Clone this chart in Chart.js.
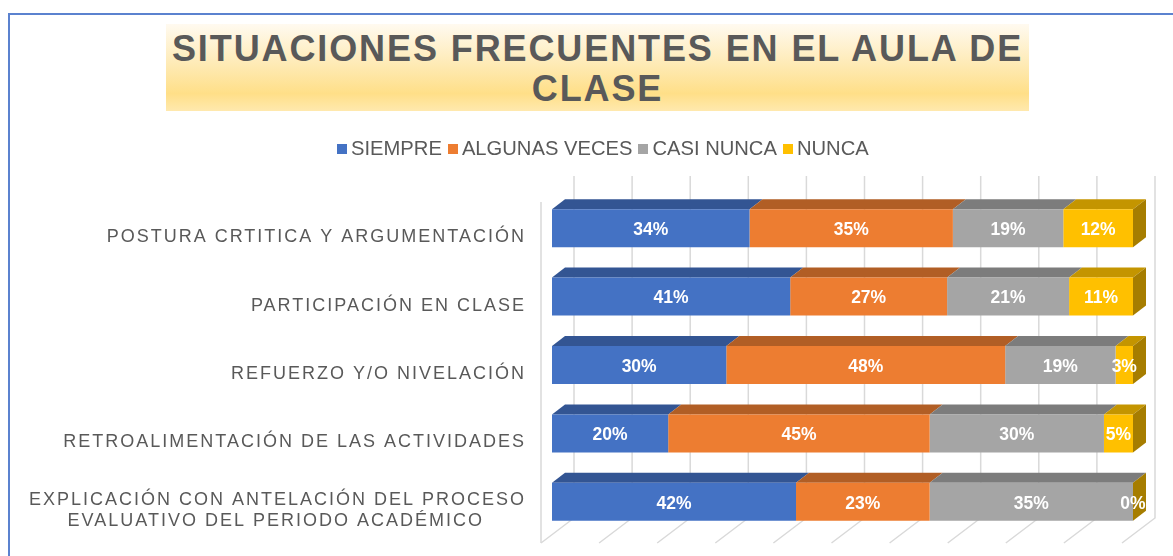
<!DOCTYPE html>
<html lang="es">
<head>
<meta charset="utf-8">
<title>Situaciones frecuentes en el aula de clase</title>
<script src="https://cdn.jsdelivr.net/npm/chart.js@4"></script>
<style>
  html, body { margin: 0; background: #fff; }
  #page { position: relative; width: 1173px; height: 556px; overflow: hidden; font-family: "Liberation Sans", Arial, sans-serif; }
  #frame { position: absolute; left: 8px; top: 13px; right: -4px; bottom: -4px; border: 2px solid #5b82cf; }
  #chartTitle {
    position: absolute; left: 166px; top: 24px; width: 863px; height: 87px; text-align: center;
    font-weight: bold; font-size: 36px; line-height: 40px; letter-spacing: 1.9px; color: #595959;
    padding-top: 5px; box-sizing: border-box;
    background: linear-gradient(#fffaf0 0%, #fee9b0 50%, #ffdf88 80%, #ffe9ae 100%);
  }
  #legend { position: absolute; left: 337px; top: 136px; display: flex; font-size: 20.2px; line-height: 24px; color: #595959; white-space: nowrap; }
  #legend span { display: flex; align-items: center; margin-right: 6px; }
  #legend i { width: 10px; height: 10px; margin-right: 4px; position: relative; top: 1px; }
  canvas { position: absolute; left: 0; top: 0; }
</style>
</head>
<body>
<div id="page">
  <div id="frame"></div>
  <canvas id="chart" width="1173" height="556"></canvas>
  <div id="chartTitle">SITUACIONES FRECUENTES EN EL AULA DE<br>CLASE</div>
  <div id="legend"></div>
</div>
<script>
// trailing spaces keep the second line centred under the first one
const categories = [
  "POSTURA CRTITICA Y ARGUMENTACIÓN",
  "PARTICIPACIÓN EN CLASE",
  "REFUERZO Y/O NIVELACIÓN",
  "RETROALIMENTACIÓN DE LAS ACTIVIDADES",
  ["EXPLICACIÓN CON ANTELACIÓN DEL PROCESO", "EVALUATIVO DEL PERIODO ACADÉMICO      "]
];
const seriesNames = ["SIEMPRE", "ALGUNAS VECES", "CASI NUNCA", "NUNCA"];
const siempre = [34, 41, 30, 20, 42];
const algunasVeces = [35, 27, 48, 45, 23];
const casiNunca = [19, 21, 19, 30, 35];
const nunca = [12, 11, 3, 5, 0];
const gridValues = [0, 10, 20, 30, 40, 50, 60, 70, 80, 90, 100];

const frontColors = ["#4472c4", "#ed7d31", "#a5a5a5", "#ffc000"];
const topColors = ["#335593", "#b15e25", "#7c7c7c", "#c49500"];
const sideColor = "#a67d00";

// html legend, the box/text gaps of the original don't fit the built in one
seriesNames.forEach((name, i) => {
  const item = document.createElement("span");
  item.innerHTML = '<i style="background:' + frontColors[i] + '"></i>' + name;
  document.getElementById("legend").appendChild(item);
});

function poly(ctx, pts, color) {
  ctx.fillStyle = color;
  ctx.beginPath();
  pts.forEach((p, i) => i ? ctx.lineTo(p[0], p[1]) : ctx.moveTo(p[0], p[1]));
  ctx.closePath();
  ctx.fill();
}

/* ========= 3D WALLS AND BAR FACES ========= */
const depth3d = {
  id: "depth3d",
  beforeDraw(chart) {
    // only the category labels are native canvas text with spacing
    chart.ctx.letterSpacing = "2px";
  },
  beforeDatasetsDraw(chart) {
    const ctx = chart.ctx;
    const area = chart.chartArea;
    const x = chart.scales.x;

    ctx.save();
    ctx.strokeStyle = "#d9d9d9";
    ctx.lineWidth = 1.5;
    gridValues.forEach(v => {
      const px = x.getPixelForValue(v);
      ctx.beginPath();
      ctx.moveTo(px + 22, area.top - 18);
      ctx.lineTo(px + 22, area.bottom - 18);
      ctx.lineTo(px - 11, area.bottom + 7);
      ctx.stroke();
    });
    // left wall edge
    ctx.beginPath();
    ctx.moveTo(x.getPixelForValue(0) - 11, area.top + 8);
    ctx.lineTo(x.getPixelForValue(0) - 11, area.bottom + 7);
    ctx.stroke();

    const dx = 13, dy = -10;
    chart.data.datasets.forEach((ds, d) => {
      chart.getDatasetMeta(d).data.forEach(bar => {
        const top = bar.y - bar.height / 2;
        const bottom = bar.y + bar.height / 2;
        poly(ctx, [[bar.base, top], [bar.x, top], [bar.x + dx, top + dy], [bar.base + dx, top + dy]], topColors[d]);
        if (d === chart.data.datasets.length - 1) {
          poly(ctx, [[bar.x, top], [bar.x + dx, top + dy], [bar.x + dx, bottom + dy], [bar.x, bottom]], sideColor);
        }
      });
    });
    ctx.restore();
  },
  afterDatasetsDraw(chart) {
    const ctx = chart.ctx;
    ctx.save();
    ctx.letterSpacing = "0px";
    ctx.font = "bold 17.5px 'Liberation Sans'";
    ctx.fillStyle = "#fff";
    ctx.textAlign = "center";
    ctx.textBaseline = "middle";
    chart.data.datasets.forEach((ds, d) => {
      chart.getDatasetMeta(d).data.forEach((bar, i) => {
        ctx.fillText(ds.data[i] + "%", (bar.base + bar.x) / 2, bar.y + 2);
      });
    });
    ctx.restore();
  }
};

new Chart(document.getElementById("chart"), {
  type: "bar",
  data: {
    labels: categories,
    datasets: [siempre, algunasVeces, casiNunca, nunca].map((values, i) => ({
      label: seriesNames[i],
      data: values,
      backgroundColor: frontColors[i],
      barPercentage: 0.556,
      categoryPercentage: 1
    }))
  },
  options: {
    indexAxis: "y",
    responsive: false,
    animation: false,
    layout: { padding: { left: 0, top: 194, right: 40, bottom: 20 } },
    plugins: { legend: { display: false }, title: { display: false }, tooltip: { enabled: false } },
    scales: {
      x: { stacked: true, min: 0, max: 100, display: false },
      y: {
        stacked: true,
        afterFit(scale) {
          scale.width = 552;
          // the tall last label would otherwise shrink the plot
          scale.paddingTop = 0;
          scale.paddingBottom = 0;
        },
        grid: { display: false, drawTicks: false },
        border: { display: false },
        ticks: {
          color: "#595959",
          padding: 26,
          labelOffset: 9,
          font: { family: "'Liberation Sans'", size: 18, lineHeight: 1.167 }
        }
      }
    }
  },
  plugins: [depth3d]
});
</script>
</body>
</html>
